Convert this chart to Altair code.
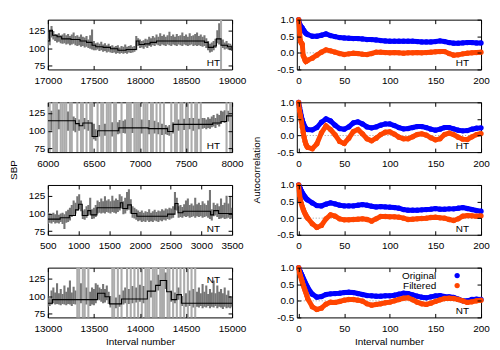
import altair as alt
import pandas as pd

A = None  # artefact beat: the raw trace leaves the plotted range

# ---------------- left column: raw SBP (grey, min/max per sample step) and filtered SBP (black steps)
SBP_DOMAIN = [70, 140]
SBP_TICKS = [75, 100, 125]
ART_LO, ART_HI = 40, 200

P1_START, P1_STEP = 17000, 20
P1_TICKS = [17000, 17500, 18000, 18500, 19000]
P1_BAND = [
    (100, 113), (104, 125), (115, 131), (112, 124), (110, 120), (108, 119), (109, 121), (107, 118), (106, 119), (107, 121),
    (105, 118), (106, 120), (104, 117), (105, 119), (106, 122), (104, 117), (103, 118), (104, 116), (102, 119), (103, 116),
    (101, 115), (102, 117), (100, 112), (99, 118), (98, 126), (97, 110), (97, 107), (98, 108), (96, 106), (97, 109),
    (95, 105), (96, 107), (94, 104), (95, 106), (94, 103), (93, 104), (94, 102), (92, 103), (93, 104), (92, 101),
    (93, 103), (92, 102), (93, 105), (92, 102), (94, 103), (93, 104), (94, 102), (95, 103), (97, 117), (103, 114),
    (100, 112), (101, 110), (99, 111), (102, 113), (100, 112), (103, 116), (102, 114), (104, 117), (103, 115), (105, 119),
    (104, 116), (103, 121), (105, 117), (104, 119), (103, 116), (105, 118), (104, 123), (103, 117), (105, 119), (104, 116),
    (103, 120), (105, 117), (104, 118), (103, 122), (105, 117), (104, 119), (103, 116), (104, 121), (105, 117), (103, 118),
    (104, 120), (103, 122), (104, 117), (103, 119), (102, 116), (103, 118), (100, 114), (97, 110), (94, 106), (95, 108),
    (97, 110), (100, 113), (107, 125), (105, 135), A, (100, 112), (98, 108), (99, 110), (98, 107), (97, 106),
    (96, 104),
]
P1_FILT_N = [17000, 17020, 17050, 17100, 17150, 17250, 17350, 17420, 17480, 17520, 17600, 17680, 17760,
             17850, 17960, 17990, 18050, 18110, 18180, 18700, 18740, 18800, 18830, 18880, 18950, 19000]
P1_FILT_SBP = [110, 125, 118, 116, 113, 112, 110, 108, 104, 102, 101, 99, 97,
               98, 110, 105, 106, 108, 110, 108, 101, 103, 113, 104, 102, 100]

P2_START, P2_STEP = 6000, 20
P2_TICKS = [6000, 6500, 7000, 7500, 8000]
P2_BAND = [
    A, A, (100, 128), A, A, A, (102, 130), A, A, A,
    A, (100, 127), A, A, (100, 120), (98, 118), A, (100, 116), A, A,
    (102, 118), A, (100, 115), A, A, (88, 110), (86, 102), A, (92, 108), A,
    A, (93, 110), A, A, A, (92, 112), A, A, (95, 112), (96, 115),
    A, (97, 114), (96, 116), A, A, A, (97, 118), A, A, A,
    A, (96, 116), A, A, A, (95, 115), A, A, (96, 114), A,
    (95, 112), A, (94, 110), A, (95, 108), (94, 106), (93, 108), A, (96, 112), A,
    A, (100, 116), A, A, (101, 117), A, A, (102, 118), A, (100, 118),
    A, A, (102, 117), A, (103, 118), (104, 118), (102, 116), (104, 119), (103, 117), (105, 120),
    (106, 122), (104, 118), (108, 124), (106, 122), (110, 128), (112, 127), (111, 129), A, (113, 128), A,
    A,
]
P2_FILT_N = [6000, 6300, 6340, 6380, 6480, 6540, 6770, 7090, 7300, 7360, 7790, 7880, 7940, 8000]
P2_FILT_SBP = [114, 110, 107, 111, 92, 100, 104, 103, 99, 109, 111, 113, 121, 121]

P3_START, P3_STEP = 500, 30
P3_TICKS = [500, 1000, 1500, 2000, 2500, 3000, 3500]
P3_BAND = [
    (85, 102), (87, 100), (86, 98), (88, 101), (86, 99), (87, 104), (86, 98), (88, 100), (85, 101), (78, 99),
    (87, 103), (88, 105), (90, 108), (95, 112), (97, 118), (100, 115), (104, 124), (106, 127), (103, 118), (92, 104),
    (91, 106), (94, 110), (97, 112), (98, 122), (92, 106), (93, 108), (95, 112), (100, 118), (101, 116), (100, 121),
    (101, 117), (100, 124), (102, 118), (101, 120), (100, 117), (102, 125), (101, 118), (100, 121), (102, 119), (104, 127),
    (107, 124), (99, 117), (100, 122), (104, 130), (105, 134), (100, 120), (94, 110), (93, 108), (91, 106), (89, 104),
    (90, 102), (88, 104), (89, 101), (88, 103), (90, 102), (88, 106), (89, 101), (88, 103), (90, 105), (89, 102),
    (88, 104), (90, 103), (89, 106), (91, 104), (90, 107), (92, 106), (91, 108), (93, 107), (94, 110), (105, 130),
    (104, 122), (94, 110), (95, 112), (94, 109), (96, 113), (95, 118), (96, 121), (94, 112), (95, 114), (96, 111),
    (94, 122), (96, 113), (95, 115), (96, 112), (94, 117), (95, 114), (96, 112), (94, 118), (92, 133), (90, 106),
    (96, 115), (97, 112), (95, 114), (92, 110), (93, 121), (94, 112), (92, 115), (93, 125), (94, 114), (92, 123),
    (93, 108),
]
P3_FILT_N = [500, 700, 850, 950, 1000, 1060, 1150, 1200, 1300, 1680, 1720, 1800, 1860, 1950, 2450,
             2570, 2620, 2700, 3150, 3200, 3280, 3500]
P3_FILT_SBP = [92, 94, 97, 105, 113, 97, 104, 98, 108, 115, 107, 112, 100, 96, 99,
               114, 101, 103, 98, 104, 100, 100]

P4_START, P4_STEP = 13000, 20
P4_TICKS = [13000, 13500, 14000, 14500, 15000]
P4_BAND = [
    (85, 100), (86, 97), (88, 108), (90, 112), (88, 105), (89, 118), (88, 104), (87, 110), (89, 103), (88, 115),
    (87, 106), (89, 112), (88, 122), (86, 105), (89, 113), (88, 108), A, A, (90, 118), A,
    A, (88, 112), A, (86, 106), (88, 112), (87, 110), (90, 118), (96, 116), (94, 112), (92, 110),
    (90, 117), (91, 110), (94, 115), (89, 106), (84, 100), A, A, (83, 98), A, (85, 102),
    A, (88, 108), (90, 112), A, (89, 110), A, (90, 114), A, (91, 112), A,
    (92, 116), A, (90, 114), A, A, A, (98, 122), A, A, A,
    (108, 130), A, A, A, (110, 133), A, A, (92, 108), A, (90, 105),
    A, (95, 112), A, (86, 100), A, (85, 104), A, (86, 108), A, (84, 110),
    A, (85, 106), (84, 112), (86, 104), (83, 117), (85, 106), (84, 115), (86, 103), (83, 110), (85, 105),
    (84, 122), (86, 104), (83, 115), (85, 106), (84, 110), (82, 104), (85, 112), (83, 102), (84, 108), (83, 100),
    (85, 98),
]
P4_FILT_N = [13000, 13050, 13540, 13620, 13670, 13800, 14080, 14170, 14220, 14290, 14340, 14400, 14450, 15000]
P4_FILT_SBP = [90, 95, 104, 99, 89, 96, 107, 115, 122, 106, 95, 102, 90, 90]

TAGS = ["HT", "HT", "NT", "NT"]

# ---------------- right column: autocorrelation of original and filtered series
LAGS = list(range(0, 10)) + list(range(10, 201, 5))
LAG_DOMAIN = [-2, 200]
LAG_TICKS = [0, 50, 100, 150, 200]
ACF_DOMAIN = [-0.5, 1.0]
ACF_TICKS = [-0.5, 0.0, 0.5, 1.0]
SERIES = ["Original", "Filtered"]

ACF1_ORIG = [1.00, 0.88, 0.82, 0.78, 0.75, 0.70, 0.66, 0.62, 0.59, 0.57,
             0.55, 0.50, 0.50, 0.53, 0.57, 0.52, 0.49, 0.46, 0.45, 0.44,
             0.43, 0.43, 0.42, 0.40, 0.40, 0.39, 0.37, 0.36, 0.35, 0.35,
             0.35, 0.35, 0.35, 0.35, 0.34, 0.33, 0.33, 0.33, 0.34, 0.36,
             0.34, 0.31, 0.29, 0.29, 0.30, 0.31, 0.31, 0.30, 0.30]
ACF1_FILT = [1.00, 0.63, 0.35, 0.30, 0.26, -0.08, -0.14, -0.22, -0.26, -0.24,
             -0.22, -0.16, -0.07, 0.02, 0.09, 0.06, 0.02, -0.02, -0.05, -0.03,
             -0.01, -0.02, -0.04, -0.05, -0.02, 0.02, 0.02, 0.01, 0.00, 0.01,
             0.00, -0.01, 0.00, 0.00, 0.01, 0.00, 0.01, 0.02, 0.03, 0.04,
             0.04, -0.02, -0.07, -0.06, -0.03, -0.01, 0.00, 0.01, 0.02]
ACF2_ORIG = [1.00, 0.85, 0.72, 0.58, 0.47, 0.38, 0.31, 0.25, 0.21, 0.19,
             0.18, 0.17, 0.24, 0.40, 0.50, 0.44, 0.31, 0.21, 0.19, 0.26,
             0.38, 0.41, 0.35, 0.26, 0.23, 0.26, 0.31, 0.35, 0.35, 0.30,
             0.24, 0.20, 0.21, 0.24, 0.27, 0.27, 0.24, 0.19, 0.16, 0.19,
             0.24, 0.24, 0.20, 0.16, 0.14, 0.15, 0.19, 0.22, 0.23]
ACF2_FILT = [1.00, 0.75, 0.60, 0.43, 0.25, 0.10, -0.05, -0.17, -0.26, -0.32,
             -0.36, -0.40, -0.25, 0.08, 0.29, 0.18, 0.02, -0.18, -0.24, -0.08,
             0.12, 0.18, 0.05, -0.10, -0.16, -0.08, 0.03, 0.10, 0.11, 0.04,
             -0.05, -0.10, -0.10, -0.04, 0.03, 0.05, 0.01, -0.07, -0.13, -0.10,
             0.03, 0.07, 0.03, -0.05, -0.11, -0.12, -0.04, 0.03, 0.06]
ACF3_ORIG = [1.00, 0.95, 0.88, 0.82, 0.77, 0.72, 0.68, 0.64, 0.60, 0.57,
             0.55, 0.46, 0.38, 0.37, 0.42, 0.46, 0.43, 0.39, 0.37, 0.37,
             0.37, 0.39, 0.41, 0.39, 0.36, 0.34, 0.35, 0.34, 0.33, 0.32,
             0.30, 0.26, 0.24, 0.24, 0.24, 0.25, 0.26, 0.27, 0.29, 0.27,
             0.27, 0.28, 0.28, 0.30, 0.32, 0.29, 0.26, 0.23, 0.21]
ACF3_FILT = [1.00, 0.70, 0.55, 0.44, 0.35, 0.27, 0.20, 0.14, 0.09, 0.04,
             0.00, -0.17, -0.28, -0.22, -0.02, 0.10, 0.06, -0.02, -0.05, -0.05,
             -0.04, -0.03, -0.02, -0.04, -0.09, -0.02, 0.05, 0.05, 0.04, 0.04,
             0.03, 0.00, -0.04, -0.03, -0.02, -0.01, 0.00, 0.02, 0.03, 0.01,
             0.00, -0.04, -0.07, -0.02, 0.06, 0.08, 0.07, 0.06, 0.07]
ACF4_ORIG = [1.00, 0.93, 0.87, 0.81, 0.75, 0.68, 0.62, 0.56, 0.50, 0.45,
             0.40, 0.20, 0.11, 0.13, 0.19, 0.21, 0.22, 0.23, 0.25, 0.26,
             0.25, 0.22, 0.19, 0.16, 0.15, 0.14, 0.14, 0.15, 0.15, 0.17,
             0.20, 0.23, 0.22, 0.18, 0.14, 0.11, 0.09, 0.12, 0.15, 0.16,
             0.13, 0.12, 0.10, 0.05, 0.00, 0.00, 0.04, 0.05, 0.04]
ACF4_FILT = [1.00, 0.85, 0.75, 0.66, 0.57, 0.48, 0.40, 0.32, 0.24, 0.16,
             0.06, -0.18, -0.26, -0.22, -0.10, -0.04, -0.05, -0.02, 0.02, 0.04,
             0.04, 0.02, -0.01, -0.09, -0.13, -0.11, -0.09, -0.06, -0.04, 0.00,
             0.04, 0.08, 0.09, 0.03, -0.04, -0.09, -0.11, -0.07, -0.02, 0.03,
             0.07, 0.08, 0.07, 0.04, 0.00, -0.05, -0.03, 0.00, 0.02]

# ---------------- styling / layout
W, H = 185, 50
ROW_GAP, COL_GAP = 33, 65
TK = 4
FONT = "Liberation Sans"
GREY_NOISE = "#767676"
GREY_ART = "#acacac"
BLUE = "#0000ff"
ORANGE = "#ff4500"
DOT = 28
BAND_W = 5
TITLE_Y = H + ROW_GAP / 2 + 1
NEG_FMT = "datum.value < 0 ? '-' + format(-datum.value, '.1f') : format(datum.value, '.1f')"


def label_axis(orient, values, **kw):
    base = dict(orient=orient, values=values, ticks=False, domain=False, grid=False,
                labelFlush=False, labelOverlap=False)
    base.update(kw)
    return alt.Axis(**base)


def tick_axis(orient, values):
    return alt.Axis(orient=orient, values=values, labels=False, ticks=True, tickSize=TK,
                    offset=-TK, domain=False, grid=False, title=None, tickColor="black",
                    tickWidth=1, zindex=1)


def tag_layer(text, top):
    return alt.Chart(pd.DataFrame({"t": [text]})).mark_text(
        align="right", baseline="middle", font=FONT, fontSize=10, color="black"
    ).encode(text="t:N", x=alt.value(W - 12), y=alt.value(12 if top else H - 6))


def left_panel(start, step, band, fn, fs, ticks, tag, tag_top=False, ytitle=False, xtitle=False):
    rows = []
    for i, b in enumerate(band):
        n = start + step * i
        if b is A:
            rows.append({"n": n, "lo": ART_LO, "hi": ART_HI, "kind": "art"})
        else:
            rows.append({"n": n, "lo": b[0], "hi": b[1], "kind": "beat"})
    raw = pd.DataFrame(rows)
    filt = pd.DataFrame({"n": fn, "sbp": fs})
    xs = alt.Scale(domain=[ticks[0], ticks[-1]], nice=False, zero=False)
    ys = alt.Scale(domain=SBP_DOMAIN, nice=False, zero=False)

    xkw = dict(labelPadding=6, titlePadding=3, format="d")
    xkw["title"] = "Interval number" if xtitle else None
    ykw = dict(labelPadding=3)
    if ytitle:
        ykw.update(title="SBP", titleX=-34, titleY=TITLE_Y, titleBaseline="middle", titleAngle=270)
    else:
        ykw["title"] = None

    grey = alt.Chart(raw).mark_rule(clip=True, strokeWidth=2.1).encode(
        x=alt.X("n:Q", scale=xs, axis=label_axis("bottom", ticks, **xkw)),
        y=alt.Y("lo:Q", scale=ys, axis=label_axis("left", SBP_TICKS, **ykw)),
        y2="hi:Q",
        color=alt.Color("kind:N", scale=alt.Scale(domain=["beat", "art"], range=[GREY_NOISE, GREY_ART]),
                        legend=None),
    )
    black = alt.Chart(filt).mark_line(interpolate="step-after", color="black", strokeWidth=1.1,
                                      clip=True).encode(
        x=alt.X("n:Q", scale=xs, axis=tick_axis("bottom", ticks)),
        y=alt.Y("sbp:Q", scale=ys, axis=tick_axis("left", SBP_TICKS)),
    )
    mirror = alt.Chart(filt).mark_line(strokeOpacity=0).encode(
        x=alt.X("n:Q", scale=xs, axis=tick_axis("top", ticks)),
        y=alt.Y("sbp:Q", scale=ys, axis=tick_axis("right", SBP_TICKS)),
    )
    return alt.layer(grey, black, mirror, tag_layer(tag, tag_top)).resolve_scale(
        x="shared", y="shared").resolve_axis(x="independent", y="independent").properties(width=W, height=H)


def right_panel(orig, filt, tag, ytitle=False, xtitle=False, legend=False):
    d_o = pd.DataFrame({"lag": LAGS, "r": orig})
    d_f = pd.DataFrame({"lag": LAGS, "r": filt})
    xs = alt.Scale(domain=LAG_DOMAIN, nice=False, zero=False)
    ys = alt.Scale(domain=ACF_DOMAIN, nice=False, zero=False)

    xkw = dict(labelPadding=6, titlePadding=3)
    xkw["title"] = "Interval number" if xtitle else None
    ykw = dict(labelPadding=3, labelExpr=NEG_FMT)
    if ytitle:
        ykw.update(title="Autocorrelation", titleX=-40, titleY=TITLE_Y, titleBaseline="middle",
                   titleAngle=270)
    else:
        ykw["title"] = None

    zero = alt.Chart(pd.DataFrame({"z": [0.0]})).mark_rule(
        color="#9a9a9a", strokeDash=[1, 2], strokeWidth=1).encode(
        y=alt.Y("z:Q", scale=ys, axis=None))
    band_o = alt.Chart(d_o).mark_line(strokeWidth=BAND_W, color=BLUE).encode(
        x=alt.X("lag:Q", scale=xs, axis=label_axis("bottom", LAG_TICKS, **xkw)),
        y=alt.Y("r:Q", scale=ys, axis=label_axis("left", ACF_TICKS, **ykw)),
    )
    p_o = alt.Chart(d_o).mark_circle(size=DOT, opacity=1, color=BLUE).encode(
        x=alt.X("lag:Q", scale=xs, axis=None),
        y=alt.Y("r:Q", scale=ys, axis=None),
    )
    band_f = alt.Chart(d_f).mark_line(strokeWidth=BAND_W, color=ORANGE).encode(
        x=alt.X("lag:Q", scale=xs, axis=tick_axis("bottom", LAG_TICKS)),
        y=alt.Y("r:Q", scale=ys, axis=tick_axis("left", ACF_TICKS)),
    )
    p_f = alt.Chart(d_f).mark_circle(size=DOT, opacity=1, color=ORANGE).encode(
        x=alt.X("lag:Q", scale=xs, axis=tick_axis("top", LAG_TICKS)),
        y=alt.Y("r:Q", scale=ys, axis=tick_axis("right", ACF_TICKS)),
    )
    layers = [zero, band_o, p_o, band_f, p_f, tag_layer(tag, False)]
    if legend:
        for i, (name, col) in enumerate(zip(SERIES, [BLUE, ORANGE])):
            ypix = 8 + 10 * i
            layers.append(alt.Chart(pd.DataFrame({"t": [name]})).mark_text(
                align="right", baseline="middle", font=FONT, fontSize=10, color="black"
            ).encode(text="t:N", x=alt.value(140), y=alt.value(ypix)))
            layers.append(alt.Chart(pd.DataFrame({"t": [name]})).mark_circle(
                size=DOT, opacity=1, color=col).encode(x=alt.value(161), y=alt.value(ypix)))
    return alt.layer(*layers).resolve_scale(x="shared", y="shared").resolve_axis(
        x="independent", y="independent").properties(width=W, height=H)


panels = [
    left_panel(P1_START, P1_STEP, P1_BAND, P1_FILT_N, P1_FILT_SBP, P1_TICKS, TAGS[0]),
    right_panel(ACF1_ORIG, ACF1_FILT, TAGS[0]),
    left_panel(P2_START, P2_STEP, P2_BAND, P2_FILT_N, P2_FILT_SBP, P2_TICKS, TAGS[1], ytitle=True),
    right_panel(ACF2_ORIG, ACF2_FILT, TAGS[1], ytitle=True),
    left_panel(P3_START, P3_STEP, P3_BAND, P3_FILT_N, P3_FILT_SBP, P3_TICKS, TAGS[2]),
    right_panel(ACF3_ORIG, ACF3_FILT, TAGS[2]),
    left_panel(P4_START, P4_STEP, P4_BAND, P4_FILT_N, P4_FILT_SBP, P4_TICKS, TAGS[3], tag_top=True,
               xtitle=True),
    right_panel(ACF4_ORIG, ACF4_FILT, TAGS[3], xtitle=True, legend=True),
]

chart = alt.concat(
    *panels, columns=2, spacing={"row": ROW_GAP, "column": COL_GAP}, bounds="flush"
).properties(padding=0).configure(font=FONT).configure_view(
    stroke="black", strokeWidth=1
).configure_axis(
    labelFont=FONT, labelFontSize=10, labelColor="black",
    titleFont=FONT, titleFontSize=10, titleFontWeight="normal", titleColor="black",
)

chart.save("out.html", embed_options={"renderer": "svg", "actions": False})
